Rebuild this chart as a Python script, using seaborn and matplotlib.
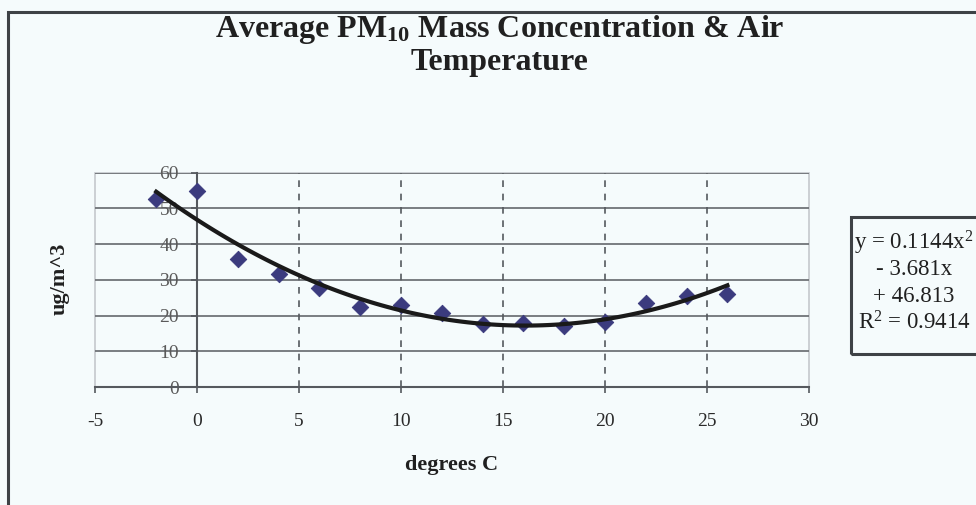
import matplotlib
matplotlib.use("Agg")
import matplotlib.pyplot as plt
from matplotlib.patches import Rectangle
import seaborn as sns
import pandas as pd

# ---- data ----
temps = [-2, 0, 2, 4, 6, 8, 10, 12, 14, 16, 18, 20, 22, 24, 26]
pm10 = [52.6, 55.0, 35.9, 31.5, 27.7, 22.5, 23.0, 20.8, 17.6, 18.0, 17.1, 18.3, 23.4, 25.6, 26.0]
x_ticks = [-5, 0, 5, 10, 15, 20, 25, 30]
y_ticks = [0, 10, 20, 30, 40, 50, 60]
title_text = r"Average PM$_{\mathbf{10}}$ Mass Concentration & Air" + "\nTemperature"
x_label = "degrees C"
y_label = "ug/m^3"
eq_lines = ["y = 0.1144x$^2$", "- 3.681x", "+ 46.813", "R$^2$ = 0.9414"]

df = pd.DataFrame({"temp": temps, "pm10": pm10})

plt.rcParams["font.family"] = ["Liberation Serif", "DejaVu Serif"]
plt.rcParams["mathtext.fontset"] = "custom"
plt.rcParams["mathtext.rm"] = "Liberation Serif"
plt.rcParams["mathtext.it"] = "Liberation Serif:italic"
plt.rcParams["mathtext.bf"] = "Liberation Serif:bold"
plt.rcParams["axes.unicode_minus"] = False

BG = "#f5fbfc"
fig = plt.figure(figsize=(9.76, 5.05), dpi=100, facecolor=BG)
W, H = 976, 505
ax = fig.add_axes([95 / W, 1 - 387 / H, (809 - 95) / W, (387 - 172.7) / H])
ax.set_facecolor(BG)

# grid
for yv in y_ticks[1:]:
    ax.axhline(yv, color="#6f7378", lw=1.3, zorder=1)
for xv in [5, 10, 15, 20, 25]:
    ax.axvline(xv, color="#55595e", lw=1.2, ls=(0, (4, 4)), zorder=1)

sns.scatterplot(data=df, x="temp", y="pm10", ax=ax, marker="D", s=70,
                color="#3b3b7e", edgecolor="#3b3b7e", zorder=3, legend=False)
sns.regplot(data=df, x="temp", y="pm10", ax=ax, order=2, ci=None, scatter=False,
            color="#1a1a1a", line_kws={"lw": 3, "zorder": 4})

ax.set_xlim(-5, 30)
ax.set_ylim(0, 60)
ax.set_xticks(x_ticks)
ax.set_yticks(y_ticks)
ax.set_xlabel("")
ax.set_ylabel("")

ax.spines["left"].set_position(("data", 0))
ax.spines["left"].set_color("#55595e")
ax.spines["left"].set_linewidth(1.5)
ax.spines["bottom"].set_color("#55595e")
ax.spines["bottom"].set_linewidth(1.5)
for s in ["top", "right"]:
    ax.spines[s].set_visible(False)
# plot-area border
ax.add_patch(Rectangle((0, 0), 1, 1, transform=ax.transAxes, fill=False,
                       edgecolor="#c4c8cc", lw=1.2, zorder=0.5, clip_on=False))

ax.tick_params(axis="x", direction="out", length=4, width=1.2, color="#55595e",
               pad=15, labelsize=14, labelcolor="#2a2a2a")
ax.tick_params(axis="y", direction="out", length=4, width=1.2, color="#55595e",
               pad=9, labelsize=14, labelcolor="#5a5a5a")

# titles / labels
fig.text(500 / W, 1 - 45 / H, title_text, ha="center", va="center",
         fontsize=23, fontweight="bold", color="#202020", linespacing=1.05)
fig.text(452 / W, 1 - 465 / H, x_label, ha="center", va="center",
         fontsize=16, fontweight="bold", color="#202020")
fig.text(60 / W, 1 - 279 / H, y_label, ha="center", va="center", rotation=90,
         fontsize=16, fontweight="bold", color="#202020")

# equation box
fig.patches.append(Rectangle((851 / W, 1 - 354 / H), 200 / W, (354 - 217) / H,
                             transform=fig.transFigure, fill=False,
                             edgecolor="#3e4246", lw=2.2))
for i, line in enumerate(eq_lines):
    fig.text(914 / W, 1 - (243 + 26.7 * i) / H, line, ha="center", va="center",
             fontsize=16.5, color="#202020")

# outer chart frame
fig.patches.append(Rectangle((8 / W, -0.1), 1.2, 1.1 - 12 / H,
                             transform=fig.transFigure, fill=False,
                             edgecolor="#3e4246", lw=2.2))

fig.savefig("out.png", dpi=100, facecolor=BG)
